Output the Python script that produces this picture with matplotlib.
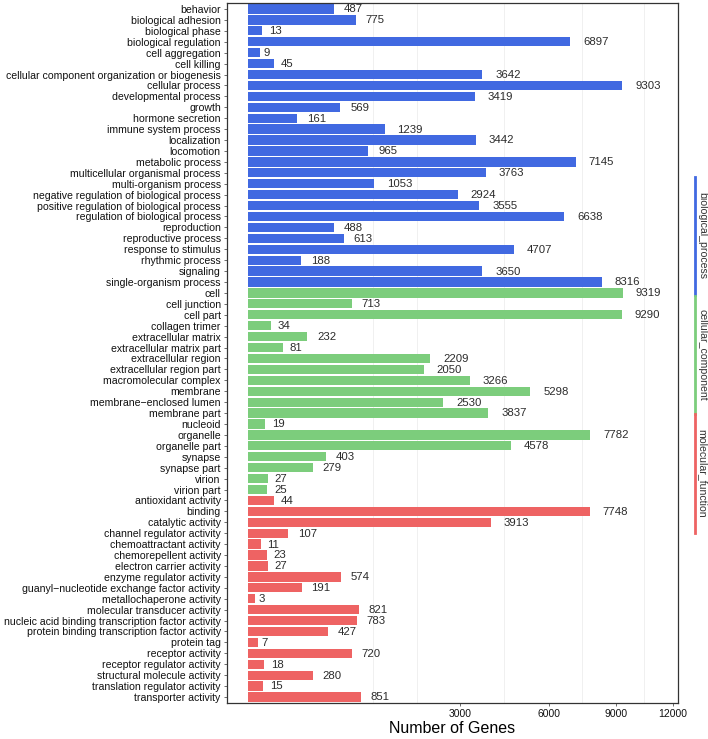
import numpy as np
import matplotlib
matplotlib.use("Agg")
import matplotlib.pyplot as plt
from matplotlib.lines import Line2D

plt.rcParams["font.family"] = ["Liberation Sans", "DejaVu Sans"]

bp_terms = [
    "behavior", "biological adhesion", "biological phase", "biological regulation",
    "cell aggregation", "cell killing", "cellular component organization or biogenesis",
    "cellular process", "developmental process", "growth", "hormone secretion",
    "immune system process", "localization", "locomotion", "metabolic process",
    "multicellular organismal process", "multi-organism process",
    "negative regulation of biological process", "positive regulation of biological process",
    "regulation of biological process", "reproduction", "reproductive process",
    "response to stimulus", "rhythmic process", "signaling", "single-organism process",
]
bp_counts = [487, 775, 13, 6897, 9, 45, 3642, 9303, 3419, 569, 161, 1239, 3442, 965,
             7145, 3763, 1053, 2924, 3555, 6638, 488, 613, 4707, 188, 3650, 8316]

cc_terms = [
    "cell", "cell junction", "cell part", "collagen trimer", "extracellular matrix",
    "extracellular matrix part", "extracellular region", "extracellular region part",
    "macromolecular complex", "membrane", "membrane\u2212enclosed lumen", "membrane part",
    "nucleoid", "organelle", "organelle part", "synapse", "synapse part", "virion",
    "virion part",
]
cc_counts = [9319, 713, 9290, 34, 232, 81, 2209, 2050, 3266, 5298, 2530, 3837, 19,
             7782, 4578, 403, 279, 27, 25]

mf_terms = [
    "antioxidant activity", "binding", "catalytic activity", "channel regulator activity",
    "chemoattractant activity", "chemorepellent activity", "electron carrier activity",
    "enzyme regulator activity", "guanyl\u2212nucleotide exchange factor activity",
    "metallochaperone activity", "molecular transducer activity",
    "nucleic acid binding transcription factor activity",
    "protein binding transcription factor activity", "protein tag", "receptor activity",
    "receptor regulator activity", "structural molecule activity",
    "translation regulator activity", "transporter activity",
]
mf_counts = [44, 7748, 3913, 107, 11, 23, 27, 574, 191, 3, 821, 783, 427, 7, 720, 18,
             280, 15, 851]

groups = ["biological_process", "cellular_component", "molecular_function"]
group_colors = ["#4169E1", "#7CCD7C", "#EE6363"]
x_ticks = [3000, 6000, 9000, 12000]

terms = bp_terms + cc_terms + mf_terms
counts = bp_counts + cc_counts + mf_counts
colors = ([group_colors[0]] * len(bp_terms) + [group_colors[1]] * len(cc_terms)
          + [group_colors[2]] * len(mf_terms))


def fwd(x):
    x = np.asarray(x, dtype=float)
    return np.sign(x) * np.sqrt(np.abs(x))


def inv(y):
    y = np.asarray(y, dtype=float)
    return np.sign(y) * y ** 2


fig = plt.figure(figsize=(7.08, 7.39), dpi=100)
ax = fig.add_axes([227 / 708, 1 - 703 / 739, 451 / 708, 700 / 739])
ax.set_xscale("function", functions=(fwd, inv))

y = np.arange(len(terms))
for gx in [1040, 1900, 4360, 7410, 10420]:
    ax.axvline(gx, color="#eeeeee", lw=0.6, zorder=0)
ax.barh(y, counts, height=0.85, color=colors, zorder=2)

for yi, v in zip(y, counts):
    s = str(v)
    ax.annotate(s, (v, yi), xytext=(2.2 * len(s) + 0.5, -0.3), textcoords="offset points",
                ha="left", va="center", fontsize=8.2, color="#2b2b2b")

ax.set_xlim(-29, 12280)
ax.set_ylim(len(terms) - 0.45, -0.55)
ax.set_yticks(y)
ax.set_yticklabels(terms, fontsize=7.6, color="#111111")
ax.set_xticks(x_ticks)
ax.set_xticklabels([str(t) for t in x_ticks], fontsize=7.5, color="#111111")
ax.xaxis.set_minor_locator(matplotlib.ticker.NullLocator())
ax.tick_params(axis="both", length=2.5, width=0.6, color="#555555", pad=2)
ax.set_xlabel("Number of Genes", fontsize=11.5, labelpad=1)
for sp in ax.spines.values():
    sp.set_color("#333333")
    sp.set_linewidth(0.9)

# side strip with the ontology groups
seg_top = [177, 296, 414]
seg_bot = [295, 414, 533]
for name, c, t, b in zip(groups, group_colors, seg_top, seg_bot):
    fig.add_artist(Line2D([695 / 708, 695 / 708], [1 - t / 739, 1 - b / 739],
                          color=c, lw=2, transform=fig.transFigure))
    fig.text(702 / 708, 1 - (t + b) / 2 / 739, name, rotation=-90, ha="center",
             va="center", fontsize=7.6, color="#333333")

fig.savefig("out.png", dpi=100)
